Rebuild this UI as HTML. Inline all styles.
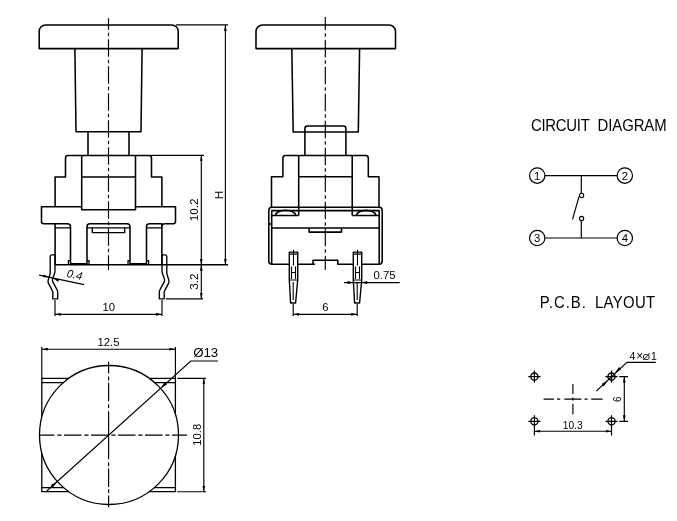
<!DOCTYPE html>
<html><head><meta charset="utf-8">
<style>
html,body{margin:0;padding:0;background:#fff;}
body{width:677px;height:521px;overflow:hidden;position:relative;}
svg{position:absolute;left:0;top:0;will-change:transform;}
.o{fill:none;stroke:#000;stroke-width:1.55;stroke-linejoin:round;}
.d{fill:none;stroke:#000;stroke-width:1.15;}
.c{fill:none;stroke:#000;stroke-width:1.15;stroke-dasharray:17.5 3 3.5 3;}
.ar{fill:#000;stroke:none;}
text{font-family:"Liberation Sans",sans-serif;fill:#000;}
.t{font-size:11.3px;}
.h{font-size:16.4px;}
</style></head>
<body>
<svg width="677" height="521" viewBox="0 0 677 521">
<defs>
<marker id="a" viewBox="0 0 6 2.8" refX="6" refY="1.4" markerWidth="6" markerHeight="2.8" markerUnits="userSpaceOnUse" orient="auto-start-reverse">
<path d="M0,0 L6,1.4 L0,2.8 z" fill="#000"/></marker>
</defs>

<!-- ================= LEFT FRONT VIEW ================= -->
<g id="front">
<!-- cap -->
<path class="o" d="M39.2,48.6 V31.4 A6.5,6.5 0 0 1 45.7,24.9 H171.7 A6.5,6.5 0 0 1 178.2,31.4 V48.6 Z"/>
<!-- stem -->
<path class="o" d="M74.9,48.6 L76,131.7 H141 L142.1,48.6"/>
<!-- neck -->
<path class="o" d="M88,131.6 V155.4 M129,131.6 V155.4"/>
<!-- housing -->
<path class="o" d="M55.1,206.8 V177 H65.5 V158 Q65.5,155.4 68,155.4 H149 Q151.5,155.4 151.5,158 V177 H161.9 V206.8"/>
<!-- inner box -->
<path class="o" d="M81.7,155.4 V209.8 H135.5 V155.4 M81.7,177 H135.5"/>
<!-- flange -->
<path class="o" d="M81.7,206.8 H41.5 V221.5 Q41.5,223.7 43.7,223.7 H67.5 Q70.5,223.7 70.5,226.7 V264.7"/>
<path class="o" d="M135.5,206.8 H175.5 V221.5 Q175.5,223.7 173.3,223.7 H164.9 Q161.9,223.7 161.9,226.7"/>
<!-- left post -->
<path class="o" d="M55.1,223.7 V264.7"/><path class="o" d="M55.1,227.9 H70.5 M87,227.9 H130 M146.5,227.9 H161.9" style="stroke-width:1.3"/>
<!-- middle block -->
<path class="o" d="M87,264.7 V226.7 Q87,223.7 90,223.7 H127 Q130,223.7 130,226.7 V264.7"/>
<path class="o" d="M92.3,227.9 V232.6 H124.7 V227.9" style="stroke-width:1.4"/>
<!-- right post -->
<path class="o" d="M146.5,264.7 V226.7 Q146.5,223.7 149.5,223.7 H161.9 V264.7"/>
<!-- feet -->
<path class="o" d="M68.4,264.7 V260.6 H70.5 M89,264.7 V260.6 H87 M128,264.7 V260.6 H130 M148.6,264.7 V260.6 H146.5" style="stroke-width:1.3"/>
<path class="o" d="M70.5,264 H87 M130,264 H146.5" style="stroke-width:2"/>
<!-- PCB line -->
<path class="d" d="M55.1,264.7 H228" style="stroke-width:1.4"/>
<!-- pins -->
<path class="o" d="M55,254.8 H52 Q50.2,254.8 50.2,256.6 V272.6 Q50.2,274 49.7,275.2 L48.2,280 Q47.6,281.9 48.6,283.6 L52.3,290.6 Q52.8,291.4 52.8,292.6 V298.8 H57.7 V292.4 Q57.7,290.8 57,289.6 L52.9,282.2 Q52.2,280.8 52.6,279 L54.6,273.2 Q55,272.2 55,271 Z" style="stroke-width:1.35"/>
<path class="o" d="M162,254.8 H165 Q166.8,254.8 166.8,256.6 V272.6 Q166.8,274 167.3,275.2 L168.8,280 Q169.4,281.9 168.4,283.6 L164.7,290.6 Q164.2,291.4 164.2,292.6 V298.8 H159.3 V292.4 Q159.3,290.8 160,289.6 L164.1,282.2 Q164.8,280.8 164.4,279 L162.4,273.2 Q162,272.2 162,271 Z" style="stroke-width:1.35"/>
<!-- center line -->
<path class="c" d="M108.5,18.2 V270" style="stroke-dashoffset:5.95"/>
<!-- dims -->
<path class="d" d="M176,24.9 H228"/>
<path class="d" d="M225.4,24.9 V264.7" marker-start="url(#a)" marker-end="url(#a)"/>
<path class="d" d="M150,155.4 H204"/>
<path class="d" d="M201.3,155.4 V264.7" marker-start="url(#a)" marker-end="url(#a)"/>
<path class="d" d="M166,298.8 H203"/>
<path class="d" d="M201.3,264.7 V298.8" marker-start="url(#a)" marker-end="url(#a)"/>
<path class="d" d="M55,300 V316 M162,300 V316"/>
<path class="d" d="M55,314.3 H162" marker-start="url(#a)" marker-end="url(#a)"/>
<path class="d" d="M39.1,275.1 L84,284.6"/>
<path class="ar" d="M49.2,277.2 L43.2,277.2 L43.7,274.6 Z M52.9,278.1 L58.8,279.3 L58.3,281.9 Z"/>
<text class="t" transform="translate(222.8,195) rotate(-90)" text-anchor="middle" style="font-size:11.7px">H</text>
<text class="t" transform="translate(198,209.9) rotate(-90)" text-anchor="middle" style="font-size:11.7px">10.2</text>
<text class="t" transform="translate(198.2,281.6) rotate(-90)" text-anchor="middle" style="font-size:11.8px">3.2</text>
<text class="t" x="108.7" y="311" text-anchor="middle">10</text>
<text class="t" transform="translate(73.4,278.4) rotate(12) skewX(-9)" text-anchor="middle">0.4</text>
</g>

<!-- ================= MIDDLE SIDE VIEW ================= -->
<g id="side">
<path class="o" d="M256,48.6 V31.5 A6.5,6.5 0 0 1 262.5,25 H389 A6.5,6.5 0 0 1 395.5,31.5 V48.6 Z"/>
<path class="o" d="M291.8,48.6 L293.2,131.9 H358.3 L359.6,48.6"/>
<path class="o" d="M304.9,155.4 V128.4 Q304.9,125.9 307.4,125.9 H343.4 Q345.9,125.9 345.9,128.4 V155.4"/>
<!-- housing -->
<path class="o" d="M271.5,207.2 V176.8 H282.9 V158 Q282.9,155.4 285.5,155.4 H365.7 Q368.3,155.4 368.3,158 V176.8 H379 V207.2"/>
<path class="o" d="M298.7,155.4 V215.4 M352.2,155.4 V215.4 M298.7,176.8 H352.2"/>
<!-- base -->
<path class="o" d="M315,264.3 H272 Q268.8,264.3 268.8,261 V210.4 Q268.8,207.2 272,207.2 H379 Q382.2,207.2 382.2,210.4 V261 Q382.2,264.3 379,264.3 H337.8 V260.2 H313 V264.3"/>
<path class="o" d="M271.7,264.3 V210.6 H379.2 V264.3"/>
<path class="o" d="M271.7,215.4 H298.7 M352.2,215.4 H379.2"/>
<path class="o" d="M275.2,215.4 A10.4,5.6 0 0 1 295.9,215.4 M356.3,215.4 A9.9,5.6 0 0 1 376,215.4"/>
<path class="o" d="M271.7,228 H379.2 M268.8,224 H271.7"/>
<path class="o" d="M309.1,228 V232.1 H341.5 V228"/>
<!-- pins -->
<g id="pin">
<path class="o" d="M289.3,280 V252.1 H297.7 V280 L295.6,303 H290.6 Z" style="fill:#fff;stroke-width:1.4"/>
<path class="d" d="M289.3,254.1 H297.7 M289.3,280 H297.7 M293.5,249.8 V265.5 M291.5,266.5 V279 M295.5,266.5 V279 M291.5,272.5 H295.5 M293.2,282 V300" style="stroke-width:1.1"/>
</g>
<use href="#pin" transform="translate(64,0)"/>
<!-- center line -->
<path class="c" d="M325.3,17 V270" style="stroke-dashoffset:4.25"/>
<!-- dims -->
<path class="d" d="M293.2,304 V316 M357.2,304 V316"/>
<path class="d" d="M293.2,314.3 H357.2" marker-start="url(#a)" marker-end="url(#a)"/>
<text class="t" x="325.3" y="310.6" text-anchor="middle">6</text>
<path class="d" d="M344,282.6 H399.7"/>
<path class="ar" d="M353.5,282.6 L347.5,281.1 V284.1 Z M361.2,282.6 L367.2,281.1 V284.1 Z"/>
<text class="t" x="384.5" y="279.2" text-anchor="middle">0.75</text>
</g>

<!-- ================= BOTTOM (TOP) VIEW ================= -->
<g id="top">
<rect class="o" x="41.8" y="378.4" width="133.6" height="113.3" style="stroke-width:1.3"/>
<path class="o" d="M41.8,382.5 H175.4 M41.8,487.5 H175.4" style="stroke-width:1.25"/>
<circle class="o" cx="109" cy="435" r="69.5" style="fill:#fff;stroke-width:1.3"/>
<path class="c" d="M39.2,435.1 H187" style="stroke-dasharray:17.5 2.8 4.2 2.5;stroke-dashoffset:2.2"/>
<path class="c" d="M108.6,435 V361.8" style="stroke-dasharray:23.8 3.1 3.9 3 18.5 2.3 3.9 3 100"/><path class="c" d="M108.6,435 V507.2" style="stroke-dasharray:24.2 3.1 3.9 2.3 18.4 2.3 3.9 2.3 100"/>
<!-- 12.5 -->
<path class="d" d="M41.8,347 V378 M175.4,347 V378"/>
<path class="d" d="M41.8,349.2 H175.4" marker-start="url(#a)" marker-end="url(#a)"/>
<text class="t" x="108.5" y="346" text-anchor="middle">12.5</text>
<!-- 10.8 -->
<path class="d" d="M177.3,378.4 H206 M177.3,491.7 H206"/>
<path class="d" d="M203.8,378.4 V491.7" marker-start="url(#a)" marker-end="url(#a)"/>
<text class="t" transform="translate(200.7,434.7) rotate(-90)" text-anchor="middle">10.8</text>
<!-- diameter leader -->
<path class="d" d="M47,490.8 L190.8,361 H218"/>
<path class="ar" d="M57.2,481.4 L53.1,487.3 L50.9,484.9 Z M160.6,388.2 L166.9,384.7 L164.7,382.3 Z"/>
<text class="t" x="205.7" y="357.2" text-anchor="middle" style="font-size:13.3px">Ø13</text>
</g>

<!-- ================= CIRCUIT ================= -->
<g id="circuit">
<text class="h" transform="translate(531,130.9) scale(0.91,1)" style="letter-spacing:-0.3px">CIRCUIT</text><text class="h" transform="translate(597.6,130.9) scale(0.91,1)" style="letter-spacing:-0.1px">DIAGRAM</text>
<circle class="d" cx="537.2" cy="175.6" r="7.7" style="stroke-width:1.2"/>
<circle class="d" cx="624.8" cy="175.6" r="7.7" style="stroke-width:1.2"/>
<circle class="d" cx="537.2" cy="238" r="7.7" style="stroke-width:1.2"/>
<circle class="d" cx="624.8" cy="238" r="7.7" style="stroke-width:1.2"/>
<text class="t" x="537.2" y="179.6" text-anchor="middle">1</text>
<text class="t" x="624.8" y="179.6" text-anchor="middle">2</text>
<text class="t" x="537.2" y="242" text-anchor="middle">3</text>
<text class="t" x="624.8" y="242" text-anchor="middle">4</text>
<path class="d" d="M544.9,175.6 H617.1 M544.9,238 H617.1 M581.3,175.6 V193.2 M581.3,220.7 V238 M572.5,219.4 L579.1,196.3" style="stroke-width:1.2"/>
<circle class="d" cx="581.6" cy="195.4" r="2.1" style="stroke-width:1.1"/>
<circle class="d" cx="581.6" cy="218.5" r="2.1" style="stroke-width:1.1"/>
</g>

<!-- ================= PCB LAYOUT ================= -->
<g id="pcb">
<text class="h" transform="translate(539.8,307.8) scale(0.91,1)" style="letter-spacing:1.1px">P.C.B.</text><text class="h" transform="translate(595,307.8) scale(0.91,1)" style="letter-spacing:0.35px">LAYOUT</text>
<g id="hole">
<circle class="d" cx="534.4" cy="376.6" r="3.6" style="stroke-width:1.35"/>
<path class="d" d="M528.3,376.6 H540.5 M534.4,370.5 V382.7" style="stroke-width:1.2"/>
</g>
<use href="#hole" transform="translate(77.1,0)"/>
<use href="#hole" transform="translate(0,44.7)"/>
<use href="#hole" transform="translate(77.1,44.7)"/>
<path class="d" d="M543.6,399.1 H554 M557,399.1 H560.2 M564.3,399.1 H581.4 M584.5,399.1 H587.6 M591.2,399.1 H602.6 M572.9,384.1 V394 M572.9,397.6 V400.6 M572.9,403.8 V414.6" style="stroke-width:1.15"/>
<path class="d" d="M534.4,425.5 V435.5 M611.5,425.5 V435.5"/>
<path class="d" d="M534.4,431.2 H611.5" marker-start="url(#a)" marker-end="url(#a)"/>
<text class="t" x="572.7" y="428.5" text-anchor="middle" style="font-size:10.2px">10.3</text>
<path class="d" d="M619.2,376.6 H628 M619.2,421.3 H628"/>
<path class="d" d="M624.3,376.6 V421.3" marker-start="url(#a)" marker-end="url(#a)"/>
<text class="t" transform="translate(621,399.2) rotate(-90)" text-anchor="middle" style="font-size:10px">6</text>
<path class="d" d="M596.3,391.2 L626.9,362.4 H655.8"/>
<path class="ar" d="M608.2,380 L603.9,386.3 L601.6,384 Z M614.6,373.3 L621.2,369.3 L619,367 Z"/>
<text class="t" x="632.35" y="359.7" text-anchor="middle" style="font-size:10.5px">4</text>
<text class="t" x="639.75" y="360" text-anchor="middle" style="font-size:12px">×</text>
<text class="t" x="646.4" y="359.9" text-anchor="middle" style="font-size:9.8px">Ø</text>
<text class="t" x="654" y="359.7" text-anchor="middle" style="font-size:10.5px">1</text>
</g>
</svg>
</body></html>
